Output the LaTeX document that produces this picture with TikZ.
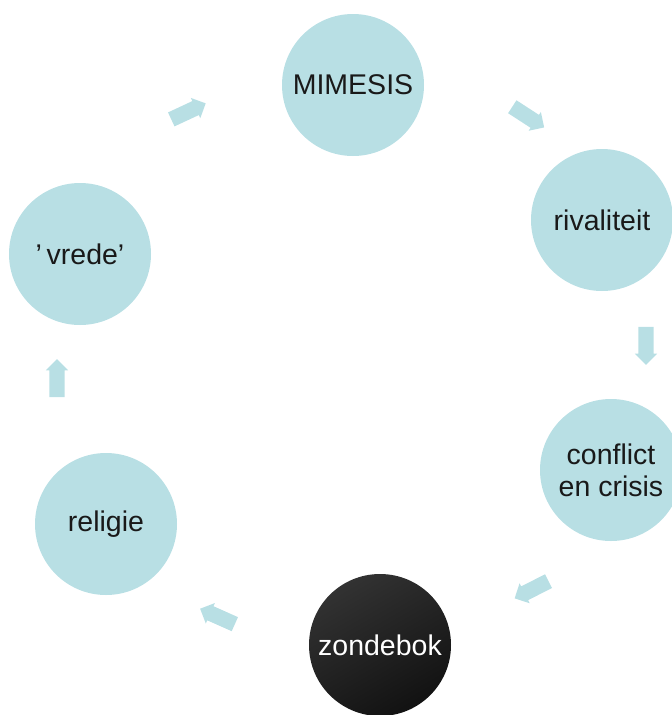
\documentclass[tikz,border=0pt]{standalone}
\usepackage{fontspec}
\setmainfont{Liberation Sans}
\usetikzlibrary{positioning,shapes.arrows}
\definecolor{mist}{RGB}{184,223,228}
\definecolor{coal}{RGB}{50,50,50}
\definecolor{ink}{RGB}{18,18,18}

\begin{document}
\begin{tikzpicture}[x=1pt, y=-1pt,
  stage/.style={circle, fill=#1, draw=none, minimum size=142pt, inner sep=0pt,
                font=\fontsize{28.5}{32}\selectfont, align=center, text=black!90},
  stage/.default=mist,
  goat/.style={stage, fill=none, shading=axis, top color=coal, bottom color=ink,
               shading angle=30, text=white},
  turn/.style={single arrow, fill=mist, draw=none, inner sep=7.5pt, minimum height=38pt,
               single arrow head extend=3.5pt, rotate=#1},
]
\useasboundingbox (0,0) rectangle (672,715);
\clip (0,0) rectangle (672,715);

\node[stage] (mimesis)  at (353, 85)  {MIMESIS};
\node[stage] (rival)    at (602, 220) {rivaliteit};
\node[stage] (conflict) at (611, 470) {conflict\\en crisis};
\node[goat]  (zondebok) at (380, 645) {zondebok};
\node[stage] (religie)  at (106, 524) {religie};
\node[stage] (vrede)    at (80,  254) {'\,vrede'};

% block arrows round the cycle
\node[turn=25]   (t1) at (185, 113) {};
\node[turn=-33]  (t2) at (525, 115) {};
\node[turn=-90]  (t3) at (646, 342) {};
\node[turn=-153] (t4) at (535, 588) {};
\node[turn=156]  (t5) at (221, 618) {};
\node[turn=90]   (t6) at (57,  382) {};
\end{tikzpicture}
\end{document}
